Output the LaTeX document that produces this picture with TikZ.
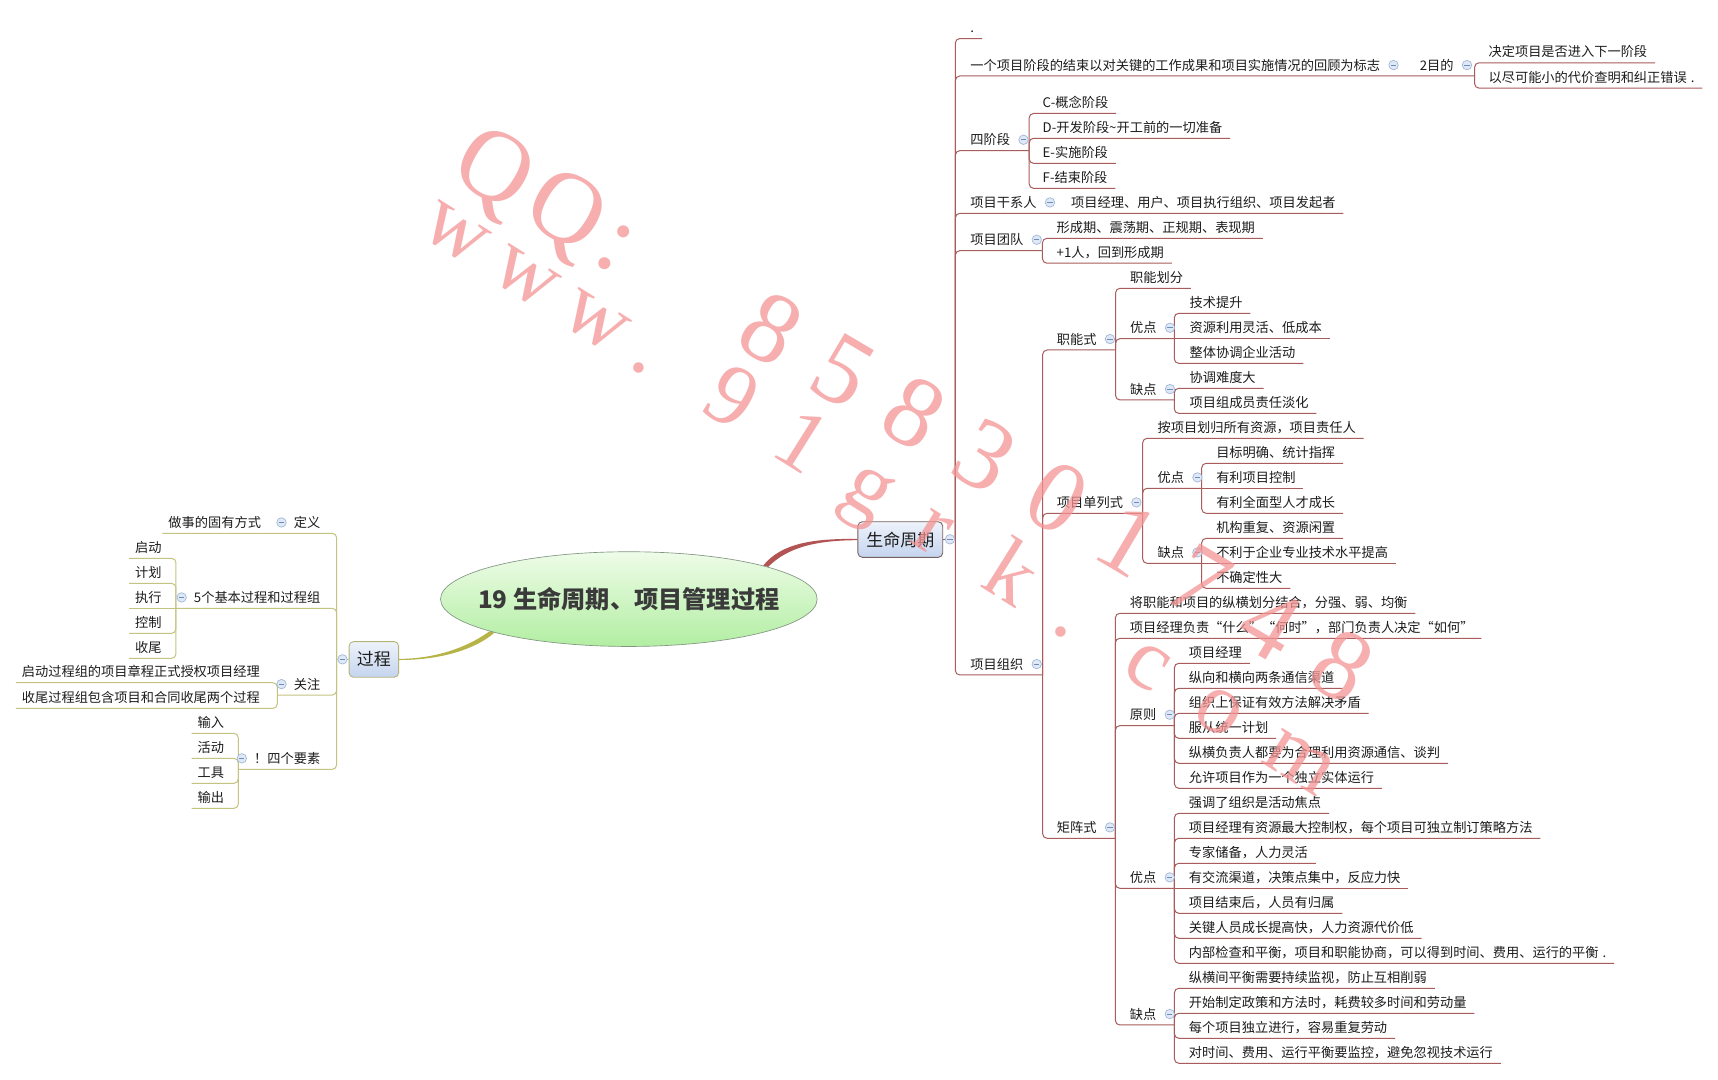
\documentclass[tikz,border=0pt]{standalone}
\usepackage{fontspec}
\setmainfont{Noto Sans CJK SC}
\newfontfamily\wmfont{Liberation Serif}
\usetikzlibrary{shapes.geometric,calc}
\definecolor{rcol}{RGB}{168,92,92}
\definecolor{lcol}{RGB}{196,196,128}
\definecolor{rcon}{RGB}{178,84,84}
\definecolor{lcon}{RGB}{182,180,72}
\definecolor{tcol}{RGB}{28,28,28}
\definecolor{mkf}{RGB}{222,232,246}
\definecolor{mkd}{RGB}{160,182,214}
\definecolor{mkm}{RGB}{110,140,186}
\definecolor{wmc}{RGB}{244,147,147}
\definecolor{etop}{RGB}{238,252,232}
\definecolor{ebot}{RGB}{178,238,162}
\definecolor{edr}{RGB}{130,150,130}
\definecolor{btop}{RGB}{238,243,251}
\definecolor{bbot}{RGB}{196,212,238}
\definecolor{bdra}{RGB}{120,96,96}
\definecolor{bdrb}{RGB}{180,180,120}
\definecolor{ttl}{RGB}{58,58,58}
\newcommand\fsn{\fontsize{12}{14}\selectfont}
\newcommand\qo{\makebox[1em][r]{“}}
\newcommand\qc{\makebox[1em][l]{”}}
\pgfdeclarelayer{back}
\pgfdeclarelayer{bg}
\pgfsetlayers{back,bg,main}
\begin{document}
\begin{tikzpicture}[x=1pt,y=-1pt,
  rl/.style={draw=rcol, line width=0.9pt, rounded corners=4pt},
  ll/.style={draw=lcol, line width=0.9pt, rounded corners=4pt},
  tx/.style={font=\fsn, text=tcol, text height=9pt, text depth=5.1pt, inner ysep=0pt, inner xsep=0pt},
  rt/.style={tx, anchor=south west},
  lp/.style={tx, anchor=south east},
  mk/.style={circle, draw=mkd, fill=mkf, line width=0.6pt, minimum size=8.6pt, inner sep=0pt,
     path picture={\draw[mkm, line width=0.8pt] ([xshift=-2.3pt]path picture bounding box.center) -- ([xshift=2.3pt]path picture bounding box.center);}},
  wma/.style={font=\wmfont\fontsize{92}{94}\selectfont, text=wmc, text opacity=0.75, inner sep=0pt, anchor=base west},
  wmb/.style={font=\wmfont\fontsize{80}{82}\selectfont, text=wmc, text opacity=0.75, inner sep=0pt, anchor=base west},
  topic/.style={rounded corners=4pt, line width=0.8pt, top color=btop, bottom color=bbot, font=\fontsize{15.4}{17}\selectfont, text=tcol, minimum height=32.3pt, inner sep=0pt}
]
\begin{pgfonlayer}{back}
\fill[white] (0,0) rectangle (1560,979.8);
\end{pgfonlayer}
\useasboundingbox (0,0) rectangle (1560,979.8);

% ---------- central topic and main branches ----------
\node[ellipse, draw=edr, line width=0.6pt, top color=etop, bottom color=ebot, minimum width=342pt, minimum height=86pt, inner sep=0pt] (title) at (571,544) {};
\node[font=\bfseries\fontsize{22}{24}\selectfont, text=ttl, inner sep=0pt] (titletext) at (title.center) {19 生命周期、项目管理过程};
\node[topic, draw=bdra, minimum width=77pt] (sm) at (817.5,489.9) {生命周期};
\node[topic, draw=bdrb, minimum width=45pt] (gc) at (339.5,598.8) {过程};

\coordinate (Rj) at (867.5,489.7);
\coordinate (Lj) at (305.7,598.7);

% ---------- right side nodes ----------
\node[rt] (r0) at (881,35) {.};
\node[rt] (r1) at (881,69) {一个项目阶段的结束以对关键的工作成果和项目实施情况的回顾为标志};
\node[rt] (r1b) at (1289,69) {2目的};
\coordinate (r1j) at (1339,69);
\node[rt] (r1a) at (1351.5,57) {决定项目是否进入下一阶段};
\node[rt] (r1c) at (1351.5,80) {以尽可能小的代价查明和纠正错误\hspace{0.3em}.};

\node[rt] (r2) at (881,136.8) {四阶段};
\coordinate (r2j) at (934.5,136.8);
\node[rt] (r2a) at (946.6,103) {C-概念阶段};
\node[rt] (r2b) at (946.6,125.6) {D-开发阶段\textasciitilde 开工前的一切准备};
\node[rt] (r2c) at (946.6,148.3) {E-实施阶段};
\node[rt] (r2d) at (946.6,171) {F-结束阶段};

\node[rt] (r3) at (881,193.7) {项目干系人};
\node[rt] (r3a) at (972.5,193.7) {项目经理、用户、项目执行组织、项目发起者};

\node[rt] (r4) at (881,227.6) {项目团队};
\coordinate (r4j) at (946.6,227.6);
\node[rt] (r4a) at (959.3,216.4) {形成期、震荡期、正规期、表现期};
\node[rt] (r4b) at (959.3,239) {+1人，回到形成期};

\node[rt] (r5) at (881,612.9) {项目组织};
\coordinate (r5j) at (946.8,612.9);

\node[rt] (r51) at (959.5,317.8) {职能式};
\coordinate (r51j) at (1013,317.8);
\node[rt] (r511) at (1026,261.8) {职能划分};
\node[rt] (r512) at (1026,307.5) {优点};
\coordinate (r512j) at (1066.3,307.5);
\node[rt] (r5121) at (1080,284.5) {技术提升};
\node[rt] (r5122) at (1080,307.5) {资源利用灵活、低成本};
\node[rt] (r5123) at (1080,329.9) {整体协调企业活动};
\node[rt] (r513) at (1026,363.2) {缺点};
\coordinate (r513j) at (1066.3,363.2);
\node[rt] (r5131) at (1080,352.6) {协调难度大};
\node[rt] (r5132) at (1080,375.3) {项目组成员责任淡化};

\node[rt] (r52) at (959.5,466.1) {项目单列式};
\coordinate (r52j) at (1037.6,466.1);
\node[rt] (r521) at (1050.9,398) {按项目划归所有资源，项目责任人};
\node[rt] (r522) at (1050.9,443.4) {优点};
\coordinate (r522j) at (1091.2,443.4);
\node[rt] (r5221) at (1104.2,420.7) {目标明确、统计指挥};
\node[rt] (r5222) at (1104.2,443.4) {有利项目控制};
\node[rt] (r5223) at (1104.2,466.1) {有利全面型人才成长};
\node[rt] (r523) at (1050.9,511.5) {缺点};
\coordinate (r523j) at (1091.2,511.5);
\node[rt] (r5231) at (1104.2,488.8) {机构重复、资源闲置};
\node[rt] (r5232) at (1104.2,511.5) {不利于企业专业技术水平提高};
\node[rt] (r5233) at (1104.2,534.2) {不确定性大};

\node[rt] (r53) at (959.5,761.2) {矩阵式};
\coordinate (r53j) at (1012.8,761.2);
\node[rt] (r531) at (1025.8,556.9) {将职能和项目的纵横划分结合，分强、弱、均衡};
\node[rt] (r532) at (1025.8,579.6) {项目经理负责\qo 什么\qc\qo 何时\qc，部门负责人决定\qo 如何\qc};
\node[rt] (r533) at (1025.8,658.9) {原则};
\coordinate (r533j) at (1066.4,658.9);
\node[rt] (r5331) at (1079.4,602.3) {项目经理};
\node[rt] (r5332) at (1079.4,625) {纵向和横向两条通信渠道};
\node[rt] (r5333) at (1079.4,647.7) {组织上保证有效方法解决矛盾};
\node[rt] (r5334) at (1079.4,670.4) {服从统一计划};
\node[rt] (r5335) at (1079.4,693.1) {纵横负责人都要为合理利用资源通信、谈判};
\node[rt] (r5336) at (1079.4,715.8) {允许项目作为一个独立实体运行};
\node[rt] (r534) at (1025.8,806.6) {优点};
\coordinate (r534j) at (1066.4,806.6);
\node[rt] (r5341) at (1079.4,738.5) {强调了组织是活动焦点};
\node[rt] (r5342) at (1079.4,761.2) {项目经理有资源最大控制权，每个项目可独立制订策略方法};
\node[rt] (r5343) at (1079.4,783.9) {专家储备，人力灵活};
\node[rt] (r5344) at (1079.4,806.6) {有交流渠道，决策点集中，反应力快};
\node[rt] (r5345) at (1079.4,829.3) {项目结束后，人员有归属};
\node[rt] (r5346) at (1079.4,852) {关键人员成长提高快，人力资源代价低};
\node[rt] (r5347) at (1079.4,874.7) {内部检查和平衡，项目和职能协商，可以得到时间、费用、运行的平衡\hspace{0.3em}.};
\node[rt] (r535) at (1025.8,930.7) {缺点};
\coordinate (r535j) at (1066.4,930.7);
\node[rt] (r5351) at (1079.4,897.4) {纵横间平衡需要持续监视，防止互相削弱};
\node[rt] (r5352) at (1079.4,920.1) {开始制定政策和方法时，耗费较多时间和劳动量};
\node[rt] (r5353) at (1079.4,942.8) {每个项目独立进行，容易重复劳动};
\node[rt] (r5354) at (1079.4,965.5) {对时间、费用、运行平衡要监控，避免忽视技术运行};

% ---------- left side nodes ----------
\node[lp] (l1) at (291,484.3) {定义};
\node[rt] (l1a) at (152.8,484.3) {做事的固有方式};
\node[lp] (l2) at (291,552.4) {5个基本过程和过程组};
\coordinate (l2j) at (159.8,552.4);
\node[rt] (l21) at (122.6,507) {启动};
\node[rt] (l22) at (122.6,529.7) {计划};
\node[rt] (l23) at (122.6,552.4) {执行};
\node[rt] (l24) at (122.6,575.1) {控制};
\node[rt] (l25) at (122.6,597.8) {收尾};
\node[lp] (l3) at (291,631.1) {关注};
\coordinate (l3j) at (251.8,631.1);
\node[rt] (l31) at (19.7,619.9) {启动过程组的项目章程正式授权项目经理};
\node[rt] (l32) at (19.7,643.2) {收尾过程组包含项目和合同收尾两个过程};
\node[lp] (l4) at (291,698.5) {！四个要素};
\coordinate (l4j) at (216.4,698.5);
\node[rt] (l41) at (179.2,665.9) {输入};
\node[rt] (l42) at (179.2,688.6) {活动};
\node[rt] (l43) at (179.2,711.3) {工具};
\node[rt] (l44) at (179.2,734) {输出};

% ---------- connectors (background layer) ----------
\begin{pgfonlayer}{bg}
% main topic to branches (tapered)
\fill[rcon] (title.14.3) .. controls (710,492.5) and (740,489.1) .. ([yshift=0.6pt]sm.west)
  -- ([yshift=-0.6pt]sm.west) .. controls (741,490.6) and (715,497) .. (title.13.2) -- cycle;
\fill[lcon] (title.193.2) .. controls (428,585.3) and (400,598) .. ([yshift=0.5pt]gc.east)
  -- ([yshift=-0.5pt]gc.east) .. controls (400,599.4) and (432,589.5) .. (title.194.3) -- cycle;

% right trunk
\draw[rl] (sm.east) -- (Rj);
\draw[rl] (Rj) |- ([xshift=7pt]r0.south east);
\draw[rl] (Rj) |- (r1j);
\draw[rl] (Rj) |- (r2j);
\draw[rl] (Rj) |- ([xshift=7pt]r3a.south east);
\draw[rl] (Rj) |- (r4j);
\draw[rl] (Rj) |- (r5j);
% 2目的
\draw[rl] (r1j) |- ([xshift=7pt]r1a.south east);
\draw[rl] (r1j) |- ([xshift=7pt]r1c.south east);
% 四阶段
\foreach \n in {r2a,r2b,r2c,r2d} \draw[rl] (r2j) |- ([xshift=7pt]\n.south east);
% 项目团队
\foreach \n in {r4a,r4b} \draw[rl] (r4j) |- ([xshift=7pt]\n.south east);
% 项目组织
\draw[rl] (r5j) |- (r51j);
\draw[rl] (r5j) |- (r52j);
\draw[rl] (r5j) |- (r53j);
% 职能式
\draw[rl] (r51j) |- ([xshift=7pt]r511.south east);
\draw[rl] (r51j) |- (r512j);
\draw[rl] (r51j) |- (r513j);
\draw[rl] (r512j) |- ([xshift=7pt]r5121.south east);
\draw[rl] (r512j) -- ([xshift=7pt]r5122.south east);
\draw[rl] (r512j) |- ([xshift=7pt]r5123.south east);
\draw[rl] (r513j) |- ([xshift=7pt]r5131.south east);
\draw[rl] (r513j) |- ([xshift=7pt]r5132.south east);
% 项目单列式
\draw[rl] (r52j) |- ([xshift=7pt]r521.south east);
\draw[rl] (r52j) |- (r522j);
\draw[rl] (r52j) |- (r523j);
\draw[rl] (r522j) |- ([xshift=7pt]r5221.south east);
\draw[rl] (r522j) -- ([xshift=7pt]r5222.south east);
\draw[rl] (r522j) |- ([xshift=7pt]r5223.south east);
\draw[rl] (r523j) |- ([xshift=7pt]r5231.south east);
\draw[rl] (r523j) -- ([xshift=7pt]r5232.south east);
\draw[rl] (r523j) |- ([xshift=7pt]r5233.south east);
% 矩阵式
\draw[rl] (r53j) |- ([xshift=7pt]r531.south east);
\draw[rl] (r53j) |- ([xshift=7pt]r532.south east);
\draw[rl] (r53j) |- (r533j);
\draw[rl] (r53j) |- (r534j);
\draw[rl] (r53j) |- (r535j);
\foreach \n in {r5331,r5332,r5333,r5334,r5335,r5336} \draw[rl] (r533j) |- ([xshift=7pt]\n.south east);
\foreach \n in {r5341,r5342,r5343,r5345,r5346,r5347} \draw[rl] (r534j) |- ([xshift=7pt]\n.south east);
\draw[rl] (r534j) -- ([xshift=7pt]r5344.south east);
\foreach \n in {r5351,r5352,r5353,r5354} \draw[rl] (r535j) |- ([xshift=7pt]\n.south east);

% left trunk
\draw[ll] (gc.west) -- (Lj);
\draw[ll] (Lj) |- ([xshift=-5.3pt]l1a.south west);
\draw[ll] (Lj) |- (l2j);
\draw[ll] (Lj) |- (l3j);
\draw[ll] (Lj) |- (l4j);
\foreach \n in {l21,l22,l24,l25} \draw[ll] (l2j) |- ([xshift=-5.3pt]\n.south west);
\draw[ll] (l2j) -- ([xshift=-5.3pt]l23.south west);
\foreach \n in {l31,l32} \draw[ll] (l3j) |- ([xshift=-5.3pt]\n.south west);
\foreach \n in {l41,l42,l43,l44} \draw[ll] (l4j) |- ([xshift=-5.3pt]\n.south west);
\end{pgfonlayer}

% ---------- collapse markers ----------
\node[mk] (smm) at (862.6,489.7) {};
\node[mk] (gcm) at (311,598.7) {};
\foreach \n in {r1,r1b,r2,r3,r4,r5,r51,r512,r513,r52,r522,r523,r53,r533,r534,r535}
  \node[mk] (\n m) at ([xshift=12pt,yshift=4.6pt]\n.base east) {};
\foreach \n in {l1,l2,l3,l4}
  \node[mk] (\n m) at ([xshift=-11pt,yshift=4.6pt]\n.base west) {};

% ---------- watermark ----------
\foreach \i/\c in {0/Q,1/Q,2/:,4/8,5/5,6/8,7/3,8/0,9/1,10/7,11/4,12/8}
  \node[wma, rotate=-30.6] (wa\i) at ({406.6+64.7*\i},{160.2+38.2*\i}) {\c};
\foreach \i/\c in {0/w,1/w,2/w,3/.,4/9,5/1,6/g,7/r,8/k,9/.,10/c,11/o,12/m}
  \node[wmb, rotate=-32.1] (wb\i) at ({378.8+63.74*\i},{211.9+39.95*\i}) {\c};
\end{tikzpicture}
\end{document}
